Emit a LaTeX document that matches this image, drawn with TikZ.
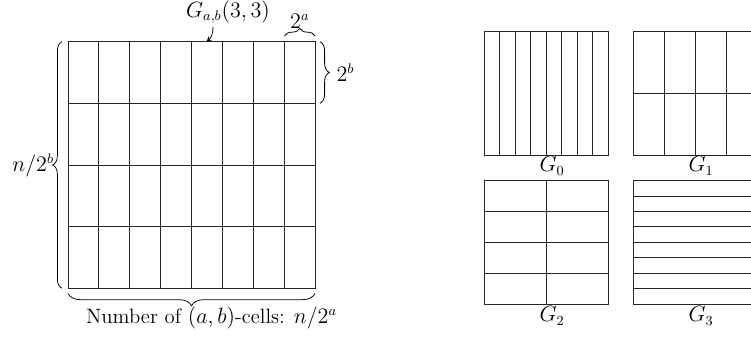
\documentclass[tikz,border=0pt]{standalone}
\usetikzlibrary{decorations.pathreplacing}
\begin{document}
\begin{tikzpicture}[x=0.65pt,y=-0.65pt,
  every node/.style={font=\fontsize{13.5}{16}\selectfont},
  gridline/.style={line width=0.6pt,black!85},
  bracestyle/.style={decorate,decoration={brace,amplitude=#1},line width=0.5pt},
  lbl/.style={inner sep=1pt}]
\useasboundingbox (0,0) rectangle (751,337);
% main grid
\coordinate (A) at (68,41.7);
\coordinate (B) at (315,288.3);
\foreach \i in {1,...,7} \draw[gridline] ({68+\i*247/8},41.7) -- ({68+\i*247/8},288.3);
\foreach \j in {1,...,3} \draw[gridline] (68,{41.7+\j*246.6/4}) -- (315,{41.7+\j*246.6/4});
\draw[gridline] (A) rectangle (B);
% braces
\coordinate (lb1) at (62,288.3); \coordinate (lb2) at (62,41.7);
\draw[bracestyle=6pt] (lb1) -- (lb2) node[midway,left=4pt,lbl] (nb) {$n/2^b$};
\coordinate (tb1) at (284.5,36); \coordinate (tb2) at (315,36);
\draw[bracestyle=5pt] (tb1) -- (tb2) node[midway,above=3.5pt,lbl] (ta) {$2^a$};
\coordinate (rb1) at (320,41.7); \coordinate (rb2) at (320,103.3);
\draw[bracestyle=6pt] (rb1) -- (rb2) node[midway,right=9.5pt,lbl] (rb) {$2^b$};
\coordinate (bb1) at (315,293.5); \coordinate (bb2) at (68,293.5);
\draw[bracestyle=8pt] (bb1) -- (bb2) node[midway,below=7.5pt,xshift=13pt,lbl] (bl) {Number of $(a,b)$-cells: $n/2^a$};
% G_{a,b}(3,3)
\node[lbl] (gab) at (228,12) {$G_{a,b}(3,3)$};
\coordinate (gt) at (206.5,41.7);
\draw[->,>=stealth,line width=0.5pt] (213,27) to[bend left=25] (gt);
% right grids
\def\gw{124}
% G0
\draw[gridline] (484.3,31.7) rectangle ++(\gw,123.3);
\foreach \i in {1,...,7} \draw[gridline] ({484.3+\i*\gw/8},31.7) -- ({484.3+\i*\gw/8},155);
\node[lbl] (g0) at (552,166) {$G_0$};
% G1
\draw[gridline] (633.3,31.7) rectangle ++(\gw,123.3);
\foreach \i in {1,...,3} \draw[gridline] ({633.3+\i*\gw/4},31.7) -- ({633.3+\i*\gw/4},155);
\draw[gridline] (633.3,93.35) -- ++(\gw,0);
\node[lbl] (g1) at (701,166) {$G_1$};
% G2
\draw[gridline] (484.3,180.7) rectangle ++(\gw,123.3);
\draw[gridline] ({484.3+\gw/2},180.7) -- ++(0,123.3);
\foreach \j in {1,...,3} \draw[gridline] (484.3,{180.7+\j*123.3/4}) -- ++(\gw,0);
\node[lbl] (g2) at (552,316) {$G_2$};
% G3
\draw[gridline] (633.3,180.7) rectangle ++(\gw,123.3);
\foreach \j in {1,...,7} \draw[gridline] (633.3,{180.7+\j*123.3/8}) -- ++(\gw,0);
\node[lbl] (g3) at (701,316) {$G_3$};
\end{tikzpicture}
\end{document}
